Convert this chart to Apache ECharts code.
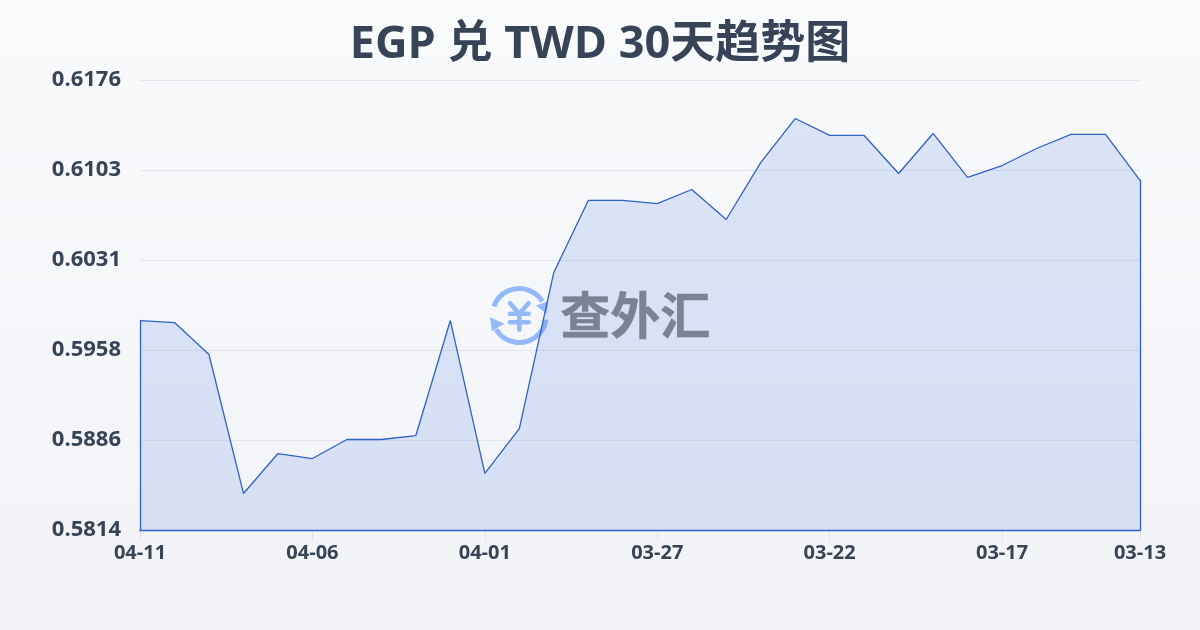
<!DOCTYPE html>
<html><head><meta charset="utf-8">
<style>html,body{margin:0;padding:0;background:#f5f7fa}#c{width:1200px;height:630px}</style>
<script src="https://cdn.jsdelivr.net/npm/echarts@6/dist/echarts.min.js"></script>
</head><body><div id="c"></div>
<script>
const titleText = 'EGP 兑 TWD 30天趋势图';
const dates = ['04-11','04-10','04-09','04-08','04-07','04-06','04-05','04-04','04-03','04-02','04-01','03-31','03-30','03-29','03-28','03-27','03-26','03-25','03-24','03-23','03-22','03-21','03-20','03-19','03-18','03-17','03-16','03-15','03-14','03-13'];
const rates = [0.59825,0.59809,0.59552,0.58434,0.58755,0.58715,0.58868,0.58868,0.58900,0.59825,0.58595,0.58956,0.60212,0.60791,0.60791,0.60766,0.60879,0.60638,0.61096,0.61450,0.61314,0.61314,0.61008,0.61330,0.60976,0.61072,0.61209,0.61322,0.61322,0.60952];
const yTicks = [0.5814,0.58864,0.59588,0.60312,0.61036,0.6176];
const yTickLabels = ['0.5814','0.5886','0.5958','0.6031','0.6103','0.6176'];
const yMin = yTicks[0], yMax = yTicks[yTicks.length-1];
const last = dates.length-1;
const font = '"Open Sans","Noto Sans CJK SC",sans-serif';
const lineColor = '#2f62c8';
const outline = {color:lineColor,width:1.3,type:'solid',cap:'square'};
const chart = echarts.init(document.getElementById('c'),null,{renderer:'canvas'});
const logoBlue = '#93b9f9';
const seg = (pts)=>({type:'polyline',shape:{points:pts},style:{stroke:logoBlue,lineWidth:4.5,lineCap:'round',lineJoin:'round',fill:null}});
chart.setOption({
  animation:false,
  backgroundColor:new echarts.graphic.LinearGradient(0,0,0,1,[{offset:0,color:'#f8fafc'},{offset:1,color:'#f1f3f6'}]),
  title:{text:titleText,left:'center',top:18,textStyle:{fontFamily:font,fontWeight:'bold',fontSize:45,color:'#374357'}},
  grid:{left:140,right:60,top:80,bottom:100},
  xAxis:{type:'category',boundaryGap:false,data:dates,
    axisLine:{show:false},
    axisTick:{show:true,length:11,lineStyle:{color:'#dfe3e9'},interval:(i)=>i%5===0||i===last},
    axisLabel:{interval:(i)=>i%5===0||i===last,fontFamily:font,fontWeight:'bold',fontSize:20,color:'#374357',margin:13,showMinLabel:true,showMaxLabel:true},
    splitLine:{show:false}},
  yAxis:{type:'value',min:yMin,max:yMax,
    axisLine:{show:false},
    axisTick:{show:false,customValues:yTicks},
    axisLabel:{customValues:yTicks,fontFamily:font,fontWeight:'bold',fontSize:22,color:'#374357',margin:19,
      formatter:(v)=>yTickLabels[yTicks.findIndex(t=>Math.abs(t-v)<1e-7)]},
    splitLine:{show:true,lineStyle:{color:'#e2e6ec',width:1}}},
  series:[{type:'line',data:rates,symbol:'none',showSymbol:false,smooth:false,
    lineStyle:{color:lineColor,width:1.3},
    areaStyle:{opacity:1,color:'rgba(59,108,222,0.15)'},
    markLine:{silent:true,symbol:'none',label:{show:false},lineStyle:outline,emphasis:{disabled:true},animation:false,
      data:[
        [{coord:[dates[0],yMin]},{coord:[dates[0],rates[0]]}],
        [{coord:[dates[last],yMin]},{coord:[dates[last],rates[last]]}],
        [{coord:[dates[0],yMin]},{coord:[dates[last],yMin]}]
      ]}
  }],
  graphic:[
    {type:'group',left:490,top:286,z:100,silent:true,children:[
      {type:'arc',shape:{cx:30,cy:29,r:27,startAngle:-2.8,endAngle:-0.55},style:{stroke:logoBlue,lineWidth:5,fill:null}},
      {type:'arc',shape:{cx:30,cy:29,r:27,startAngle:0.15,endAngle:2.6},style:{stroke:logoBlue,lineWidth:5,fill:null}},
      {type:'polygon',shape:{points:[[46.7,19],[59,14.7],[57.3,27.3]]},style:{fill:logoBlue}},
      {type:'polygon',shape:{points:[[0.7,30.7],[15,37.3],[2.7,44.7]]},style:{fill:logoBlue}},
      seg([[20.7,16.7],[30,27.3],[39.3,16.7]]),
      seg([[30,27.3],[30,43.3]]),
      seg([[20.7,27.3],[39.3,27.3]]),
      seg([[20.7,35.7],[39.3,35.7]])
    ]},
    {type:'text',left:560,top:290,z:100,silent:true,style:{text:'查外汇',font:'bold 50px "Noto Sans CJK SC",sans-serif',fill:'#7a8394',stroke:'#7a8394',lineWidth:0.5}}
  ]
});
</script></body></html>
